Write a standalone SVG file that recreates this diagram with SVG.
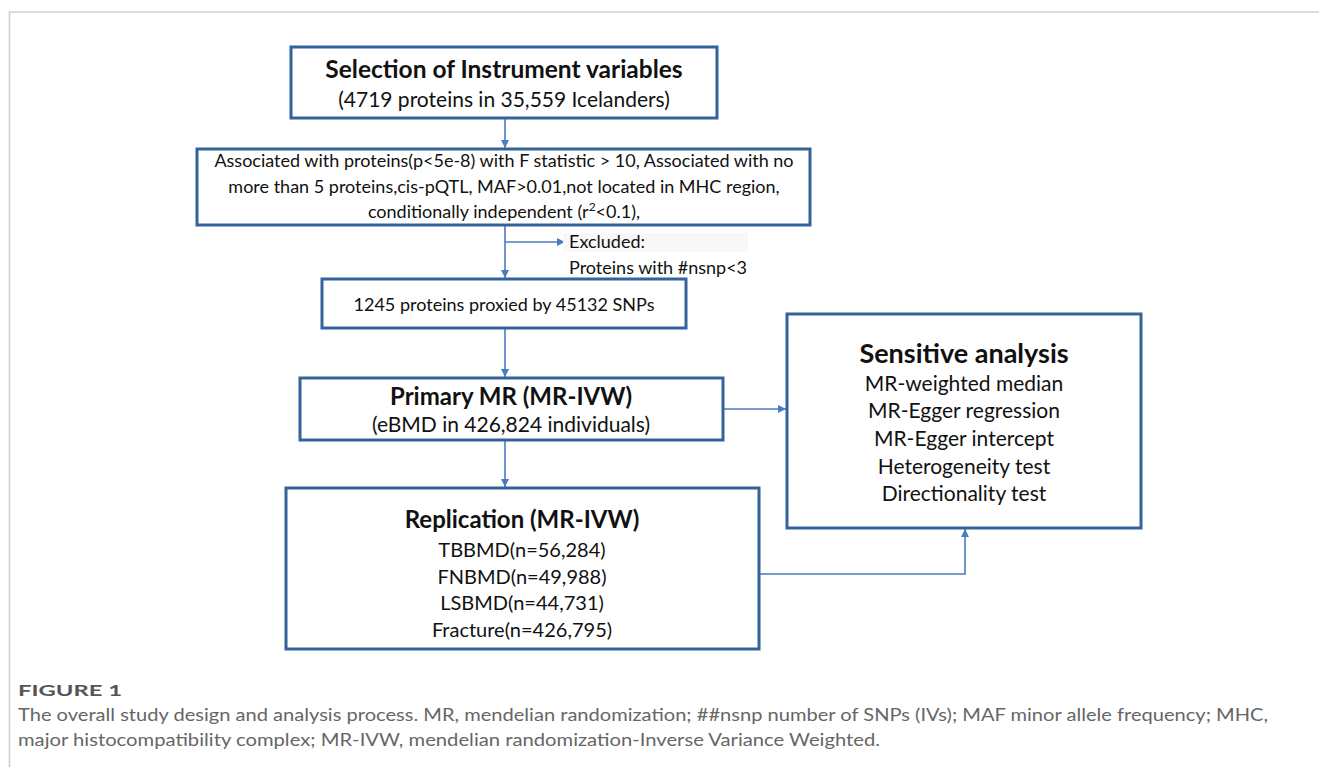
<svg xmlns="http://www.w3.org/2000/svg" width="1319" height="767" viewBox="0 0 1319 767">
<style>
.box{fill:#fff;stroke:#34639b;stroke-width:3}
.t{font-family:Lato,"Liberation Sans",sans-serif;fill:#111;text-anchor:middle}
.b{font-weight:bold;font-size:24px}
.m{font-size:20px}
.m2{font-size:21px}
.s{font-size:18px}
.e{font-family:Lato,"Liberation Sans",sans-serif;fill:#111;font-size:18px}
.c{fill:none;stroke:#4a7cc0;stroke-width:1.6}
.cap{font-family:Lato,"Liberation Sans",sans-serif;fill:#666;font-size:17px}
</style>
<defs>
<marker id="ah" markerWidth="10" markerHeight="10" refX="9" refY="5" orient="auto" markerUnits="userSpaceOnUse">
<path d="M1,1 L9,5 L1,9 Z" fill="#4a7cc0"/>
</marker>
</defs>
<rect x="0" y="0" width="1319" height="767" fill="#fff"/>
<path d="M9.5,767 V12 H1319" fill="none" stroke="#cfcfcf" stroke-width="1.6"/>

<g id="connectors">
<line class="c" x1="505" y1="118" x2="505" y2="148" marker-end="url(#ah)"/>
<line class="c" x1="505" y1="225" x2="505" y2="278" marker-end="url(#ah)"/>
<line class="c" x1="505" y1="242" x2="565" y2="242" marker-end="url(#ah)"/>
<line class="c" x1="505" y1="328" x2="505" y2="377" marker-end="url(#ah)"/>
<line class="c" x1="505" y1="440" x2="505" y2="487" marker-end="url(#ah)"/>
<line class="c" x1="723" y1="409" x2="786" y2="409" marker-end="url(#ah)"/>
<polyline class="c" points="759,574 965,574 965,529" marker-end="url(#ah)"/>
</g>

<g id="selection">
<rect class="box" x="291" y="47" width="426" height="71"/>
<text class="t b" x="504" y="78" style="font-size:24.5px">Selection of Instrument variables</text>
<text class="t m2" x="504" y="107">(4719 proteins in 35,559 Icelanders)</text>
</g>

<g id="criteria">
<rect class="box" x="197" y="149" width="613" height="76"/>
<text class="t s" x="504" y="167">Associated with proteins(p&lt;5e-8) with F statistic &gt; 10, Associated with no</text>
<text class="t s" x="504" y="193">more than 5 proteins,cis-pQTL, MAF&gt;0.01,not  located in MHC region,</text>
<text class="t s" x="504" y="218">conditionally independent (r<tspan style="font-size:12px" dy="-7">2</tspan><tspan dy="7">&lt;0.1),</tspan></text>
</g>

<g id="excluded">
<rect x="563" y="233" width="185" height="19" fill="#f8f8f8"/>
<text class="e" x="569" y="248">Excluded:</text>
<text class="e" x="569" y="274">Proteins with #nsnp&lt;3</text>
</g>

<g id="proxied">
<rect class="box" x="322" y="279" width="364" height="49"/>
<text class="t" x="504" y="311" style="font-size:18px">1245 proteins proxied by 45132 SNPs</text>
</g>

<g id="primary">
<rect class="box" x="300" y="378" width="423" height="62"/>
<text class="t b" x="511" y="405">Primary MR (MR-IVW)</text>
<text class="t m2" x="511" y="432">(eBMD in 426,824 individuals)</text>
</g>

<g id="replication">
<rect class="box" x="286" y="488" width="473" height="161"/>
<text class="t b" x="522" y="528">Replication (MR-IVW)</text>
<text class="t m" x="522" y="557">TBBMD(n=56,284)</text>
<text class="t m" x="522" y="584">FNBMD(n=49,988)</text>
<text class="t m" x="522" y="610">LSBMD(n=44,731)</text>
<text class="t m" x="522" y="637">Fracture(n=426,795)</text>
</g>

<g id="sensitive">
<rect class="box" x="787" y="314" width="354" height="214"/>
<text class="t b" x="964" y="363" style="font-size:27px">Sensitive analysis</text>
<text class="t m2" x="964" y="391">MR-weighted median</text>
<text class="t m2" x="964" y="418">MR-Egger regression</text>
<text class="t m2" x="964" y="446">MR-Egger intercept</text>
<text class="t m2" x="964" y="474">Heterogeneity test</text>
<text class="t m2" x="964" y="501">Directionality test</text>
</g>

<g id="caption">
<text x="18" y="696" font-family="Lato,'Liberation Sans',sans-serif" font-size="16" font-weight="bold" fill="#555" textLength="104" lengthAdjust="spacingAndGlyphs">FIGURE 1</text>
<text class="cap" x="18" y="721" textLength="1250" lengthAdjust="spacingAndGlyphs">The overall study design and analysis process. MR, mendelian randomization; ##nsnp number of SNPs (IVs); MAF minor allele frequency; MHC,</text>
<text class="cap" x="18" y="746" textLength="862" lengthAdjust="spacingAndGlyphs">major histocompatibility complex; MR-IVW, mendelian randomization-Inverse Variance Weighted.</text>
</g>
</svg>
